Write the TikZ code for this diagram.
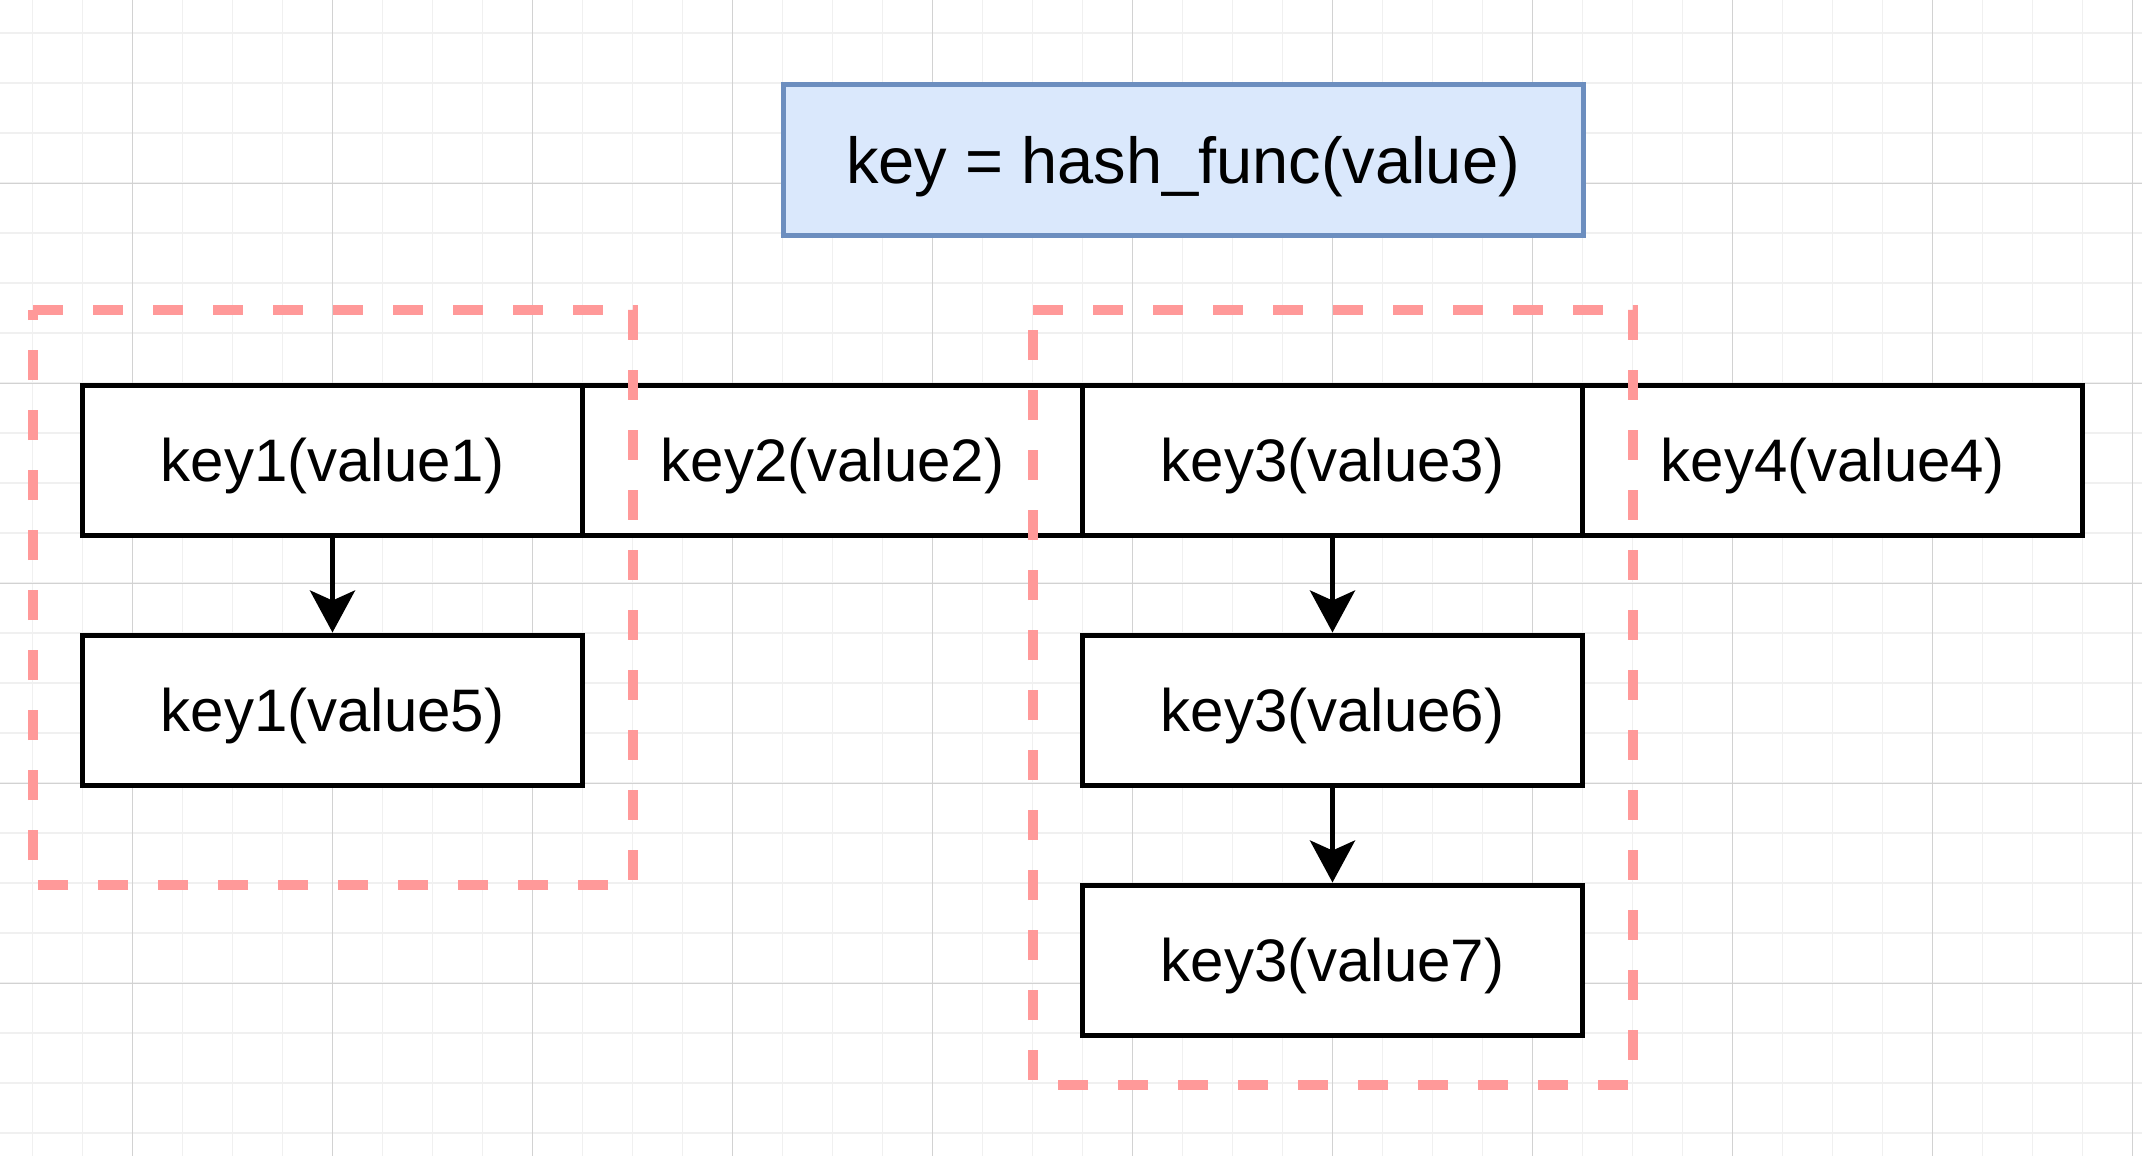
\documentclass[tikz,border=0pt]{standalone}
\usepackage{fontspec}
\setmainfont{Liberation Sans}
\usetikzlibrary{arrows.meta}
\definecolor{gridminor}{HTML}{F0F0F0}
\definecolor{gridmajor}{HTML}{D2D2D2}
\definecolor{titlefill}{HTML}{DAE8FC}
\definecolor{titleline}{HTML}{6C8EBF}
\definecolor{groupline}{HTML}{FF9999}
\begin{document}
\begin{tikzpicture}[x=0.5pt,y=-0.5pt,
  gridminorline/.style={draw=gridminor, line width=0.9pt},
  gridmajorline/.style={draw=gridmajor, line width=0.55pt},
  cell/.style={draw=black, fill=white, line width=2.5pt, minimum width=250pt,
    minimum height=75pt, inner sep=0pt, font=\fontsize{30pt}{36pt}\selectfont,
    text height=21.5pt, text depth=0pt},
  titlebox/.style={draw=titleline, fill=titlefill, line width=2.5pt, minimum width=400pt,
    minimum height=75pt, inner sep=0pt, font=\fontsize{32.5pt}{39pt}\selectfont,
    text height=23.3pt, text depth=0pt},
  conn/.style={draw=black, line width=2.4pt, -{Stealth[length=21pt,width=22.5pt,inset=5pt]}},
  groupframe/.style={draw=groupline, line width=5pt, dash pattern=on 15pt off 15pt}]
\useasboundingbox (0,0) rectangle (2142,1156);
\fill[white] (0,0) rectangle (2142,1156);
% grid
\foreach \i in {0,...,42} \draw[gridminorline] ({32.5+50*\i},0) -- ++(0,1156);
\foreach \j in {0,...,22} \draw[gridminorline] (0,{33.3+50*\j}) -- ++(2142,0);
\foreach \i in {0,...,10} \draw[gridmajorline] ({132.5+200*\i},0) -- ++(0,1156);
\foreach \j in {0,...,4} \draw[gridmajorline] (0,{183.3+200*\j}) -- ++(2142,0);
% title
\node[titlebox] (title) at (1183,160) {key = hash\_func(value)};
% row of buckets
\node[cell] (k1) at (332.5,460) {key1(value1)};
\node[cell] (k2) at (832.5,460) {key2(value2)};
\node[cell] (k3) at (1332.5,460) {key3(value3)};
\node[cell] (k4) at (1832.5,460) {key4(value4)};
% chains
\node[cell] (k1b) at (332.5,710) {key1(value5)};
\node[cell] (k3b) at (1332.5,710) {key3(value6)};
\node[cell] (k3c) at (1332.5,960) {key3(value7)};
\draw[conn] (k1) -- (k1b);
\draw[conn] (k3) -- (k3b);
\draw[conn] (k3b) -- (k3c);
% dashed group frames
\draw[groupframe] (33,310) -- (633,310) -- (633,885) -- (33,885) -- cycle;
\draw[groupframe] (1033,310) -- (1633,310) -- (1633,1085) -- (1033,1085) -- cycle;
\end{tikzpicture}
\end{document}
